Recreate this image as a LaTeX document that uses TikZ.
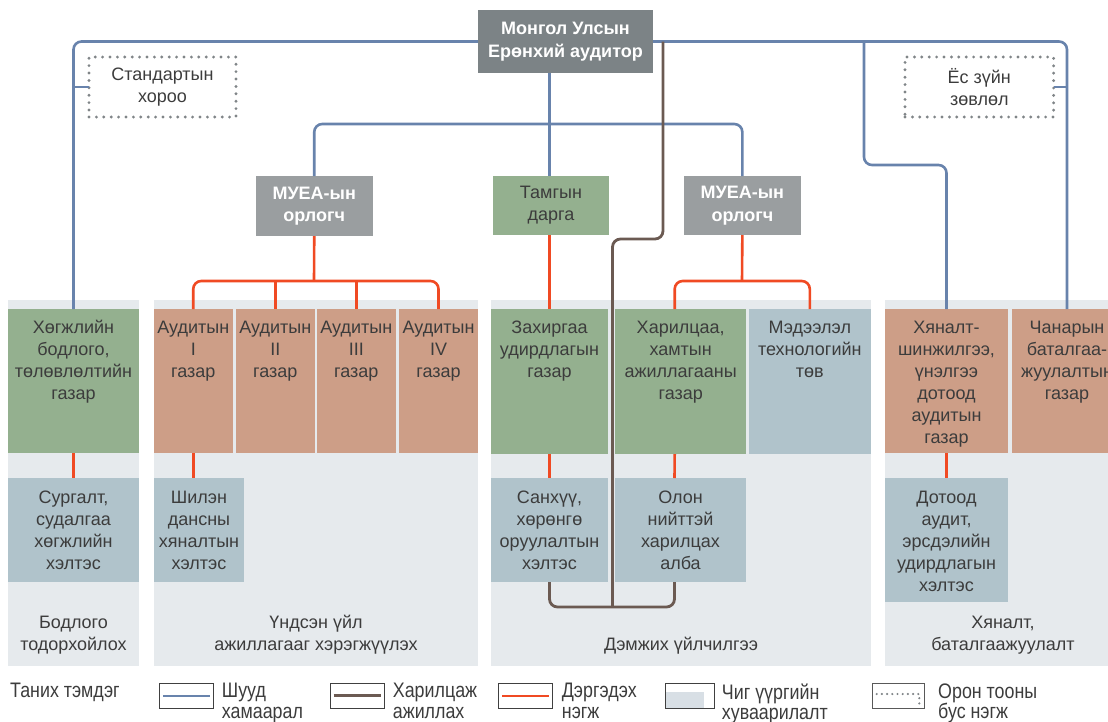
\documentclass[tikz,border=0pt]{standalone}
\usepackage{fontspec}
\setmainfont{Liberation Sans}
\newfontfamily\legfont{Liberation Sans}[FakeStretch=0.85]
\usetikzlibrary{calc}
\definecolor{cblue}{RGB}{104,131,172}
\definecolor{cbrown}{RGB}{107,90,82}
\definecolor{cred}{RGB}{240,74,35}
\definecolor{cgreen}{RGB}{148,176,143}
\definecolor{csalmon}{RGB}{205,158,135}
\definecolor{cbgray}{RGB}{176,195,203}
\definecolor{ccol}{RGB}{230,234,237}
\definecolor{clegfill}{RGB}{216,223,229}
\definecolor{ctop}{RGB}{124,131,134}
\definecolor{cmid}{RGB}{154,158,160}
\definecolor{cdot}{RGB}{128,133,136}
\definecolor{ctxt}{RGB}{60,60,60}
\begin{document}
\begin{tikzpicture}[x=1pt,y=-1pt,
  box/.style={anchor=north west, inner sep=0pt, outer sep=0pt, draw=none},
  lbl/.style={anchor=north, inner sep=0pt, outer sep=0pt, align=center, text=ctxt, font=\fontsize{18}{22}\selectfont},
  hd/.style={box, align=center, text=white, font=\fontsize{18}{22.5}\selectfont\bfseries},
  ctr/.style={box, align=center, text=ctxt, font=\fontsize{18}{22}\selectfont},
  bl/.style={draw=cblue, line width=2.6pt, rounded corners=8pt},
  rd/.style={draw=cred, line width=2.6pt, rounded corners=8pt},
  br/.style={draw=cbrown, line width=2.8pt, rounded corners=8pt},
  dotbox/.style={ctr, draw=cdot, line width=3.2pt, dash pattern=on 0pt off 7.4pt, line cap=round},
  leg/.style={anchor=north west, inner sep=0pt, align=left, text=ctxt, font=\legfont\fontsize{21}{20.5}\selectfont},
  legbox/.style={box, draw=black!75, line width=1pt, minimum width=54pt, minimum height=25pt}
]
\clip (0,0) rectangle (1108,721);

% column backgrounds
\node[box, fill=ccol, minimum width=131pt, minimum height=366pt] (col1) at (8,300) {};
\node[box, fill=ccol, minimum width=324pt, minimum height=366pt] (col2) at (154,300) {};
\node[box, fill=ccol, minimum width=380pt, minimum height=366pt] (col3) at (491,300) {};
\node[box, fill=ccol, minimum width=237pt, minimum height=366pt] (col4) at (885,300) {};

% top level
\node[hd, fill=ctop, minimum width=175pt, minimum height=63pt] (top) at (478,10) {Монгол Улсын\\Ерөнхий аудитор};
\node[dotbox, minimum width=147pt, minimum height=60pt] (std) at (89,57) {Стандартын\\хороо};
\node[dotbox, minimum width=148.6pt, minimum height=60pt] (yos) at (905,57) {Ёс зүйн\\зөвлөл};

\node[hd, fill=cmid, minimum width=116.5pt, minimum height=60pt] (m1) at (256,176) {МУЕА-ын\\орлогч};
\node[ctr, fill=cgreen, minimum width=116pt, minimum height=59pt] (tam) at (493,176) {Тамгын\\дарга};
\node[hd, fill=cmid, minimum width=116.7pt, minimum height=59pt] (m2) at (684,176) {МУЕА-ын\\орлогч};

% upper units
\node[box, fill=cgreen, minimum width=131pt, minimum height=144pt] (hog) at (8,309) {};
\node[box, fill=csalmon, minimum width=78.5pt, minimum height=144pt] (a1) at (154,309) {};
\node[box, fill=csalmon, minimum width=78.6pt, minimum height=144pt] (a2) at (236,309) {};
\node[box, fill=csalmon, minimum width=78.7pt, minimum height=144pt] (a3) at (317,309) {};
\node[box, fill=csalmon, minimum width=79pt, minimum height=144pt] (a4) at (399,309) {};
\node[box, fill=cgreen, minimum width=117pt, minimum height=145pt] (zah) at (491,309) {};
\node[box, fill=cgreen, minimum width=131.4pt, minimum height=145pt] (har) at (615,309) {};
\node[box, fill=cbgray, minimum width=122.4pt, minimum height=145pt] (med) at (748.6,309) {};
\node[box, fill=csalmon, minimum width=123pt, minimum height=144pt] (hyan) at (885,309) {};
\node[box, fill=csalmon, minimum width=110pt, minimum height=144pt] (chan) at (1012,309) {};

% lower units
\node[box, fill=cbgray, minimum width=131pt, minimum height=104pt] (surg) at (8,478) {};
\node[box, fill=cbgray, minimum width=90pt, minimum height=104pt] (shil) at (154,478) {};
\node[box, fill=cbgray, minimum width=117pt, minimum height=104pt] (san) at (491,478) {};
\node[box, fill=cbgray, minimum width=131pt, minimum height=104pt] (olon) at (615,478) {};
\node[box, fill=cbgray, minimum width=123pt, minimum height=124pt] (dot) at (885,478) {};

% texts in units
\node[lbl] (hogt) at ([yshift=-9pt]hog.north) {\strut Хөгжлийн\\бодлого,\\төлөвлөлтийн\\газар};
\node[lbl] (a1t) at ([yshift=-9pt]a1.north) {\strut Аудитын\\I\\газар};
\node[lbl] (a2t) at ([yshift=-9pt]a2.north) {\strut Аудитын\\II\\газар};
\node[lbl] (a3t) at ([yshift=-9pt]a3.north) {\strut Аудитын\\III\\газар};
\node[lbl] (a4t) at ([yshift=-9pt]a4.north) {\strut Аудитын\\IV\\газар};
\node[lbl] (zaht) at ([yshift=-9pt]zah.north) {\strut Захиргаа\\удирдлагын\\газар};
\node[lbl] (hart) at ([yshift=-9pt]har.north) {\strut Харилцаа,\\хамтын\\ажиллагааны\\газар};
\node[lbl] (medt) at ([yshift=-9pt]med.north) {\strut Мэдээлэл\\технологийн\\төв};
\node[lbl] (hyant) at ([yshift=-9pt]hyan.north) {\strut Хяналт-\\шинжилгээ,\\үнэлгээ\\дотоод\\аудитын\\газар};
\node[lbl] (chant) at ([yshift=-9pt]chan.north) {\strut Чанарын\\баталгаа-\\жуулалтын\\газар};
\node[lbl] (surgt) at ([yshift=-10pt]surg.north) {\strut Сургалт,\\судалгаа\\хөгжлийн\\хэлтэс};
\node[lbl] (shilt) at ([yshift=-10pt]shil.north) {\strut Шилэн\\дансны\\хяналтын\\хэлтэс};
\node[lbl] (sant) at ([yshift=-10pt]san.north) {\strut Санхүү,\\хөрөнгө\\оруулалтын\\хэлтэс};
\node[lbl] (olont) at ([yshift=-10pt]olon.north) {\strut Олон\\нийттэй\\харилцах\\алба};
\node[lbl] (dott) at ([yshift=-10pt]dot.north) {\strut Дотоод\\аудит,\\эрсдэлийн\\удирдлагын\\хэлтэс};

% column labels
\node[lbl] (c1l) at (73.5,612.6) {\strut Бодлого\\тодорхойлох};
\node[lbl] (c2l) at (316,612.6) {\strut Үндсэн үйл\\ажиллагааг хэрэгжүүлэх};
\node[lbl] (c3l) at (681,634.6) {\strut Дэмжих үйлчилгээ};
\node[lbl] (c4l) at (1003,612.6) {\strut Хяналт,\\баталгаажуулалт};

% blue connectors
\coordinate (hub) at (550,124);
\coordinate (rb) at (864,41.5);
\draw[bl] (top.west) -| (hog.north);
\draw[bl] (top.east) -| (chan.north);
\draw[bl] (std.west) -- (std.west -| hog.north);
\draw[bl] (yos.east) -- (yos.east -| chan.north);
\draw[bl] (rb) -- (864,165) -| (hyan.north);
\draw[bl] (zah.north |- top.south) -- (zah.north |- tam.north);
\draw[bl] (m1.north) |- (hub) -| (m2.north);

% red connectors
\coordinate (rh1) at (314,281);
\coordinate (rh2) at (742,281);
\draw[rd] (m1.south) -- (rh1);
\draw[rd] (a1.north) |- (rh1) -| (a4.north);
\draw[rd] (a2.north) -- (a2.north |- rh1);
\draw[rd] (a3.north) -- (a3.north |- rh1);
\draw[rd] (zah.north |- tam.south) -- (zah.north);
\draw[rd] (m2.south) -- (rh2);
\draw[rd] ([xshift=-6pt]har.north) |- (rh2) -| (med.north);
\draw[rd] (hog.south) -- (surg.north);
\draw[rd] (a1.south) -- (a1.south |- shil.north);
\draw[rd] (zah.south) -- (san.north);
\draw[rd] ([xshift=-6pt]har.south) -- ([xshift=-6pt]olon.north);
\draw[rd] (hyan.south) -- (dot.north);

% brown connectors
\coordinate (bst) at (663,41.5);
\coordinate (bj) at (612.5,607);
\draw[br] (bst) -- (663,239) -| (bj);
\draw[br] (san.south) |- (bj) -| ([xshift=-6pt]olon.south);

% legend
\node[leg] (lg0) at (10,683.3) {Таних тэмдэг};
\node[legbox] (lb1) at (159.3,683.3) {};
\draw[draw=cblue, line width=2.6pt] ([xshift=3.5pt]lb1.west) -- ([xshift=-3.5pt]lb1.east);
\node[leg] (lt1) at (221.7,683.3) {Шууд\\хамаарал};
\node[legbox] (lb2) at (330,683.3) {};
\draw[draw=cbrown, line width=2.8pt] ([xshift=3.5pt]lb2.west) -- ([xshift=-3.5pt]lb2.east);
\node[leg] (lt2) at (392.7,683.3) {Харилцаж\\ажиллах};
\node[legbox] (lb3) at (498.5,683.3) {};
\draw[draw=cred, line width=2.6pt] ([xshift=3.5pt]lb3.west) -- ([xshift=-3.5pt]lb3.east);
\node[leg] (lt3) at (561.7,683.3) {Дэргэдэх\\нэгж};
\node[legbox, minimum width=49pt] (lb4) at (665,683.3) {};
\fill[clegfill] ([xshift=1pt,yshift=0.5pt]lb4.south west) rectangle ([xshift=39pt,yshift=16.5pt]lb4.south west);
\node[leg] (lt4) at (721.7,683.3) {Чиг үүргийн\\хуваарилалт};
\node[legbox, minimum width=51.6pt, draw=black!65] (lb5) at (872.7,683.3) {};
\draw[cdot, line width=2.4pt, dash pattern=on 0pt off 5.2pt, line cap=round] ([xshift=4pt,yshift=-10.7pt]lb5.north west) -- ([xshift=-5pt,yshift=-10.7pt]lb5.north east) -- ([xshift=-5pt,yshift=2.3pt]lb5.south east);
\node[leg] (lt5) at (938,683.3) {Орон тооны\\бус нэгж};
\end{tikzpicture}
\end{document}
